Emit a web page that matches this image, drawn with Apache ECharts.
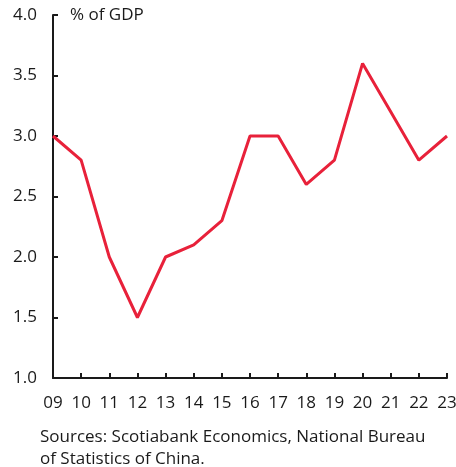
<!DOCTYPE html>
<html>
<head>
<meta charset="utf-8">
<script src="https://cdn.jsdelivr.net/npm/echarts@6/dist/echarts.min.js"></script>
<style>
  html, body { margin: 0; padding: 0; background: #fff; }
  #chart { width: 456px; height: 467px; }
</style>
</head>
<body>
<div id="chart"></div>
<script>
// Years (two-digit labels) and government deficit, % of GDP
const years = ['09', '10', '11', '12', '13', '14', '15', '16', '17', '18', '19', '20', '21', '22', '23'];
const deficit = [3.0, 2.8, 2.0, 1.5, 2.0, 2.1, 2.3, 3.0, 3.0, 2.6, 2.8, 3.6, 3.2, 2.8, 3.0];
const unitLabel = '% of GDP';
const sourceNote = 'Sources: Scotiabank Economics, National Bureau\nof Statistics of China.';

const FONT = '"Open Sans", "Noto Sans", sans-serif';
const INK = '#1a1a1a';
const chart = echarts.init(document.getElementById('chart'));

chart.setOption({
  animation: false,
  grid: { left: 53, right: 9, top: 15, bottom: 89, outerBoundsMode: 'none', containLabel: false },
  xAxis: {
    type: 'category',
    data: years,
    boundaryGap: false,
    axisLine: { lineStyle: { color: INK, width: 2 } },
    axisTick: { inside: true, length: 5, lineStyle: { color: INK, width: 2 } },
    axisLabel: { color: INK, fontSize: 17, fontFamily: FONT, margin: 17 }
  },
  yAxis: {
    type: 'value',
    min: 1, max: 4, interval: 0.5,
    axisLine: { show: true, lineStyle: { color: INK, width: 2 } },
    axisTick: { show: true, inside: true, length: 5, lineStyle: { color: INK, width: 2 } },
    splitLine: { show: false },
    axisLabel: {
      color: INK, fontSize: 17, fontFamily: FONT, margin: 16,
      formatter: v => v.toFixed(1)
    }
  },
  series: [{
    type: 'line',
    data: deficit,
    symbol: 'none',
    lineStyle: { color: '#e8213a', width: 3 },
    z: 3
  }],
  graphic: [
    {
      type: 'text', left: 70, top: 7,
      style: { text: unitLabel, fontSize: 17, fontFamily: FONT, fill: INK }
    },
    {
      type: 'text', left: 40, top: 426,
      style: { text: sourceNote, fontSize: 17, lineHeight: 22, fontFamily: FONT, fill: INK }
    }
  ]
});
</script>
</body>
</html>
